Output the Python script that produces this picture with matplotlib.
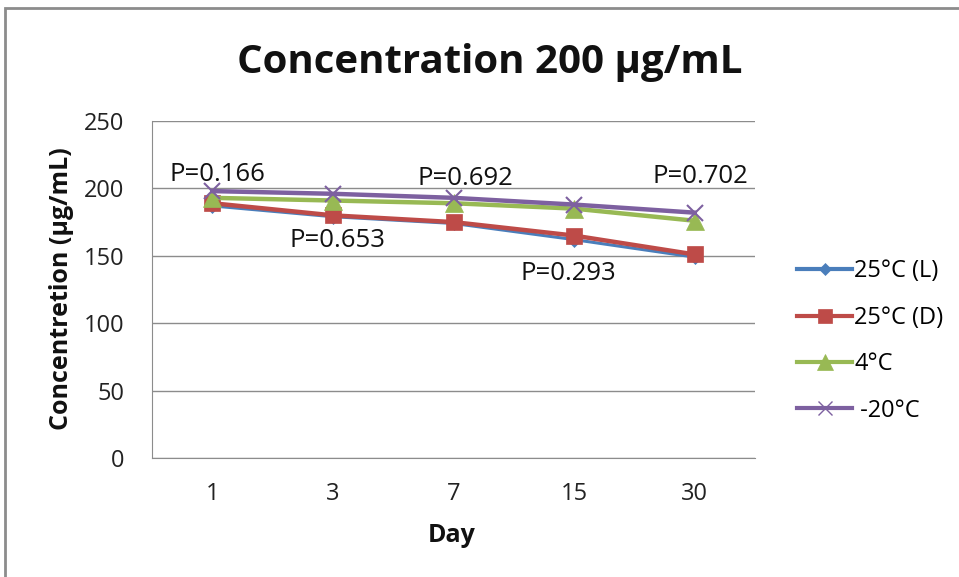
import matplotlib
matplotlib.use("Agg")
import matplotlib.pyplot as plt
from matplotlib.lines import Line2D
from matplotlib.patches import Rectangle

days = ["1", "3", "7", "15", "30"]
s_25L = [187, 179, 174, 162, 149]
s_25D = [189, 180, 175, 165, 151]
s_4 = [193, 191, 189, 185, 176]
s_m20 = [198, 196, 193, 188, 182]
series_labels = ["25°C (L)", "25°C (D)", "4°C", " -20°C"]
p_labels = ["P=0.166", "P=0.653", "P=0.692", "P=0.293", "P=0.702"]
p_x = [0.04, 1.04, 2.1, 2.95, 4.05]
p_y = [210, 161, 207.5, 137, 209]

FONT = "Open Sans"
plt.rcParams['font.family'] = [FONT, 'DejaVu Sans']

fig = plt.figure(figsize=(9.59, 5.77), dpi=100)
fig.patches.append(Rectangle((5/959, -0.1), 1.2, 1 - 8/577 + 0.1, transform=fig.transFigure,
                             fill=False, edgecolor="#8c8c8c", linewidth=2.0))
ax = fig.add_axes([152/959, 1-458/577, (755-152)/959, (458-121)/577])

x = list(range(len(days)))
styles = [
    (s_25L, "#4a7ebb", "D", 7),
    (s_25D, "#be4b48", "s", 12),
    (s_4, "#98b954", "^", 13),
    (s_m20, "#7d60a0", "x", 12),
]
handles = []
for (vals, col, mk, ms), lab in zip(styles, series_labels):
    ax.plot(x, vals, color=col, lw=3.2 if mk in "s^x" else 2.2, marker=mk, markersize=ms,
            markerfacecolor=col, markeredgecolor=col, markeredgewidth=1.5 if mk == "x" else 0.5,
            zorder=3)
    handles.append(Line2D([0], [0], color=col, lw=3, marker=mk, markersize=ms * 0.85,
                          markerfacecolor=col, markeredgecolor=col,
                          markeredgewidth=1.0 if mk == "x" else 0.5, label=lab))

ax.set_xlim(-0.5, len(days) - 0.5)
ax.set_ylim(0, 250)
ax.set_yticks(range(0, 251, 50))
ax.set_xticks(x)
ax.set_xticklabels(days)
ax.yaxis.grid(True, color="#8c8c8c", lw=1.0)
ax.set_axisbelow(True)
for s in ["top", "right"]:
    ax.spines[s].set_visible(False)
ax.spines["left"].set_color("#8c8c8c")
ax.spines["bottom"].set_color("#8c8c8c")
ax.tick_params(length=0, labelsize=17, colors="#222222", pad=17)
ax.tick_params(axis="y", pad=20)

for lab, px, py in zip(p_labels, p_x, p_y):
    ax.text(px, py, lab, ha="center", va="center", fontsize=18.5, color="#111111", zorder=4)

fig.text(490/959, 1 - 62/577, "Concentration 200 μg/mL", ha="center", va="center",
         fontsize=29, fontweight="bold", color="#111111")
fig.text(62/959, 1 - 289/577, "Concentretion (μg/mL)", ha="center", va="center",
         rotation=90, fontsize=18, fontweight="bold", color="#111111")
fig.text(452/959, 1 - 535/577, "Day", ha="center", va="center",
         fontsize=18, fontweight="bold", color="#111111")

fig.legend(handles=handles, loc="upper left", bbox_to_anchor=(788/959, 1 - 250/577),
           frameon=False, fontsize=17, handlelength=2.3, handletextpad=0.1,
           labelspacing=0.95, borderaxespad=0)

fig.savefig("out.png", dpi=100)
